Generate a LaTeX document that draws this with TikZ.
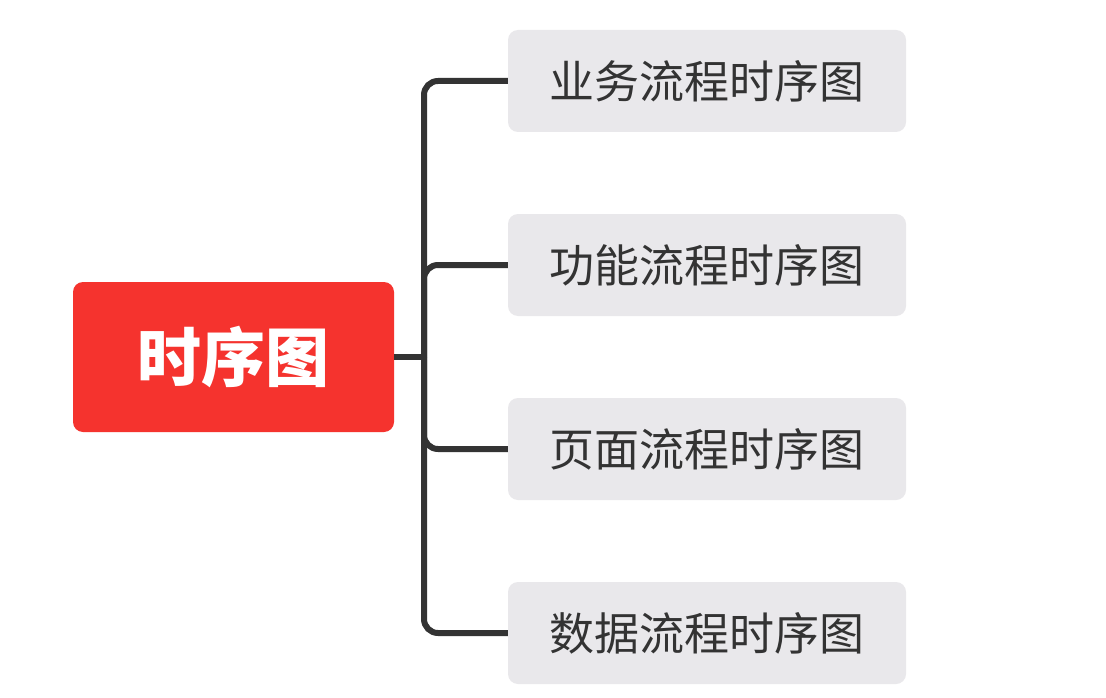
\documentclass[tikz,border=0pt]{standalone}
\usepackage{fontspec}
\newfontfamily\cjk{Noto Sans CJK SC}
\definecolor{rootred}{HTML}{F5332E}
\definecolor{childgray}{HTML}{E9E8EB}
\definecolor{linegray}{HTML}{333333}
\begin{document}
\begin{tikzpicture}[x=1pt,y=-1pt,
  rootbox/.style={fill=rootred,rounded corners=10pt,minimum width=321pt,minimum height=150pt,text=white,font=\cjk\bfseries\fontsize{64}{72}\selectfont},
  childbox/.style={fill=childgray,rounded corners=10pt,minimum width=398pt,minimum height=102pt,text=linegray,font=\cjk\fontsize{45}{52}\selectfont},
  conn/.style={draw=linegray,line width=6pt,rounded corners=14pt}]
\useasboundingbox[fill=white] (0,0) rectangle (1106,698);
\node[rootbox] (root) at (233.5,357) {时序图};
\node[childbox] (c1) at (707,81) {业务流程时序图};
\node[childbox] (c2) at (707,265) {功能流程时序图};
\node[childbox] (c3) at (707,449) {页面流程时序图};
\node[childbox] (c4) at (707,633) {数据流程时序图};
\coordinate (j) at (424,357);
\draw[conn] (root.east) -- (j);
\draw[conn] (j) |- (c1.west);
\draw[conn] (j) |- (c2.west);
\draw[conn] (j) |- (c3.west);
\draw[conn] (j) |- (c4.west);
\end{tikzpicture}
\end{document}
